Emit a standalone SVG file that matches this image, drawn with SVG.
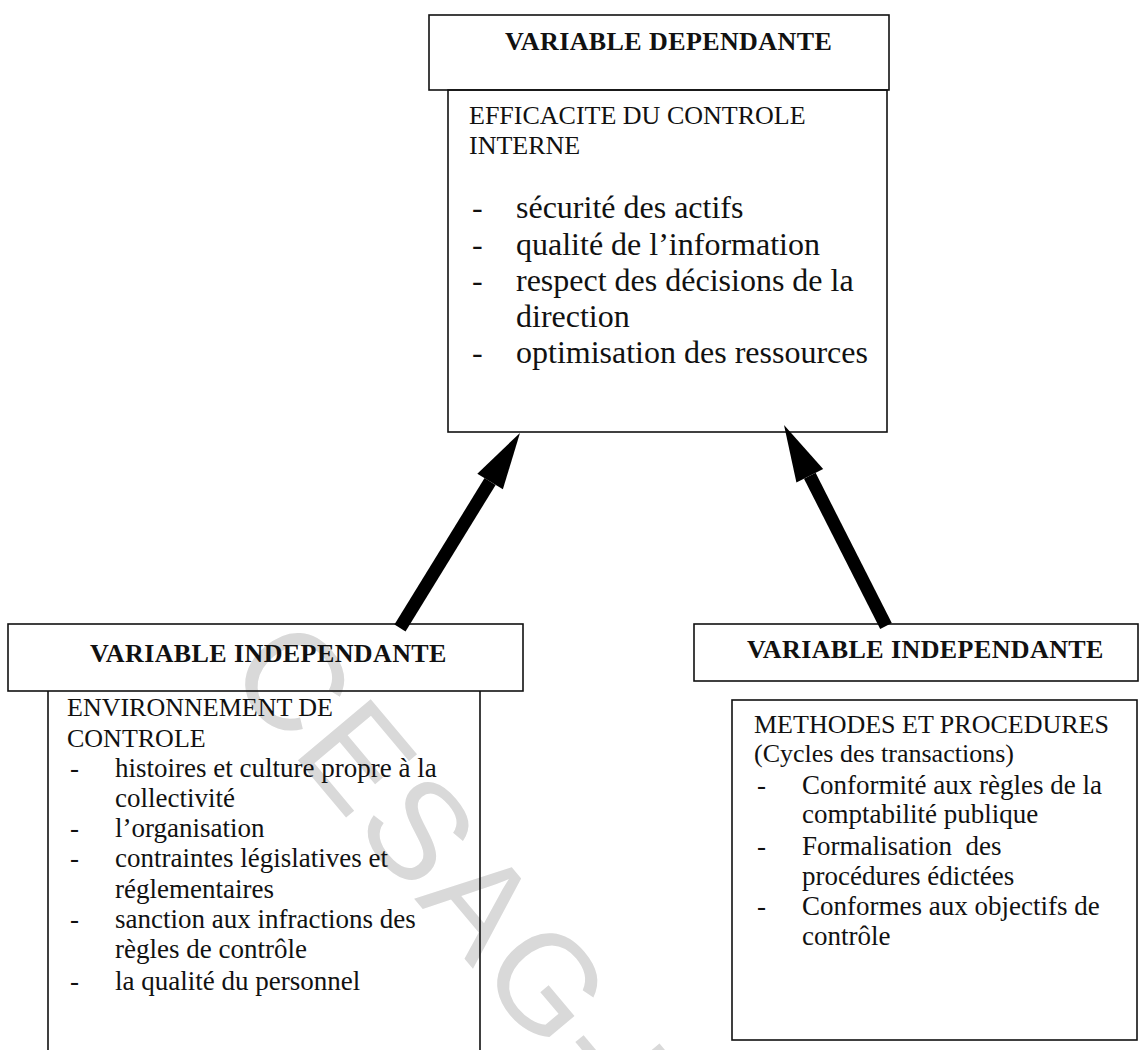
<svg xmlns="http://www.w3.org/2000/svg" width="1140" height="1050" viewBox="0 0 1140 1050">
  <style>
    .box { fill: none; stroke: #111; stroke-width: 1.6; }
    .title { font-family: "Liberation Serif", "Times New Roman", serif; font-weight: bold; font-size: 26px; letter-spacing: 0.4px; fill: #111; }
    .head { font-family: "Liberation Serif", "Times New Roman", serif; font-size: 26px; fill: #111; }
    .item { font-family: "Liberation Serif", "Times New Roman", serif; font-size: 27px; fill: #111; }
    .big { font-size: 32px; }
    .mark { font-family: "Liberation Sans", Arial, sans-serif; font-size: 138px; letter-spacing: 4px; fill: #d9d9d9; }
    .shaft { stroke: #000; stroke-width: 13; stroke-linecap: butt; marker-end: url(#head); }
  </style>
  <defs>
    <marker id="head" markerUnits="userSpaceOnUse" markerWidth="60" markerHeight="32" refX="0" refY="16" orient="auto" overflow="visible">
      <path d="M0,1 L57,16 L0,31 Z" fill="#000"/>
    </marker>
  </defs>

  <rect width="1140" height="1050" fill="#fff"/>

  <!-- background stamp -->
  <text class="mark" transform="translate(224,672) rotate(50)">CESAG-B</text>

  <!-- dependent variable -->
  <g id="dependante">
    <rect class="box" x="429" y="15" width="460" height="75"/>
    <text class="title" x="505" y="50">VARIABLE DEPENDANTE</text>
    <rect class="box" x="448" y="90" width="439" height="342"/>
    <text class="head" x="469" y="124">EFFICACITE DU CONTROLE</text>
    <text class="head" x="469" y="154">INTERNE</text>
    <g class="item big">
      <text x="472" y="218">-</text><text x="516" y="218">sécurité des actifs</text>
      <text x="472" y="255">-</text><text x="516" y="255">qualité de l’information</text>
      <text x="472" y="291">-</text><text x="516" y="291">respect des décisions de la</text>
      <text x="516" y="327">direction</text>
      <text x="472" y="363">-</text><text x="516" y="363">optimisation des ressources</text>
    </g>
  </g>

  <!-- independent variable: control environment -->
  <g id="independante-environnement">
    <rect class="box" x="8" y="624" width="515" height="67"/>
    <text class="title" x="90" y="662">VARIABLE INDEPENDANTE</text>
    <path class="box" d="M48,691 V1050 M480,691 V1050"/>
    <text class="head" x="67" y="716">ENVIRONNEMENT DE</text>
    <text class="head" x="67" y="747">CONTROLE</text>
    <g class="item">
      <text x="70" y="777">-</text><text x="115" y="777">histoires et culture propre à la</text>
      <text x="115" y="807">collectivité</text>
      <text x="70" y="837">-</text><text x="115" y="837">l’organisation</text>
      <text x="70" y="867">-</text><text x="115" y="867">contraintes législatives et</text>
      <text x="115" y="898">réglementaires</text>
      <text x="70" y="928">-</text><text x="115" y="928">sanction aux infractions des</text>
      <text x="115" y="958">règles de contrôle</text>
      <text x="70" y="990">-</text><text x="115" y="990">la qualité du personnel</text>
    </g>
  </g>

  <!-- independent variable: methods and procedures -->
  <g id="independante-methodes">
    <rect class="box" x="694" y="624" width="444" height="57"/>
    <text class="title" x="747" y="658">VARIABLE INDEPENDANTE</text>
    <rect class="box" x="732" y="700" width="405" height="340"/>
    <text class="head" x="754" y="733">METHODES ET PROCEDURES</text>
    <text class="head" x="754" y="762">(Cycles des transactions)</text>
    <g class="item">
      <text x="757" y="794">-</text><text x="802" y="794">Conformité aux règles de la</text>
      <text x="802" y="823">comptabilité publique</text>
      <text x="757" y="855">-</text><text x="802" y="855" xml:space="preserve">Formalisation  des</text>
      <text x="802" y="885">procédures édictées</text>
      <text x="757" y="915">-</text><text x="802" y="915">Conformes aux objectifs de</text>
      <text x="802" y="945">contrôle</text>
    </g>
  </g>

  <!-- influence arrows -->
  <g id="connectors">
    <line class="shaft" x1="400" y1="628" x2="490.1" y2="481.5"/>
    <line class="shaft" x1="886" y1="626" x2="809.8" y2="475.8"/>
  </g>
</svg>
